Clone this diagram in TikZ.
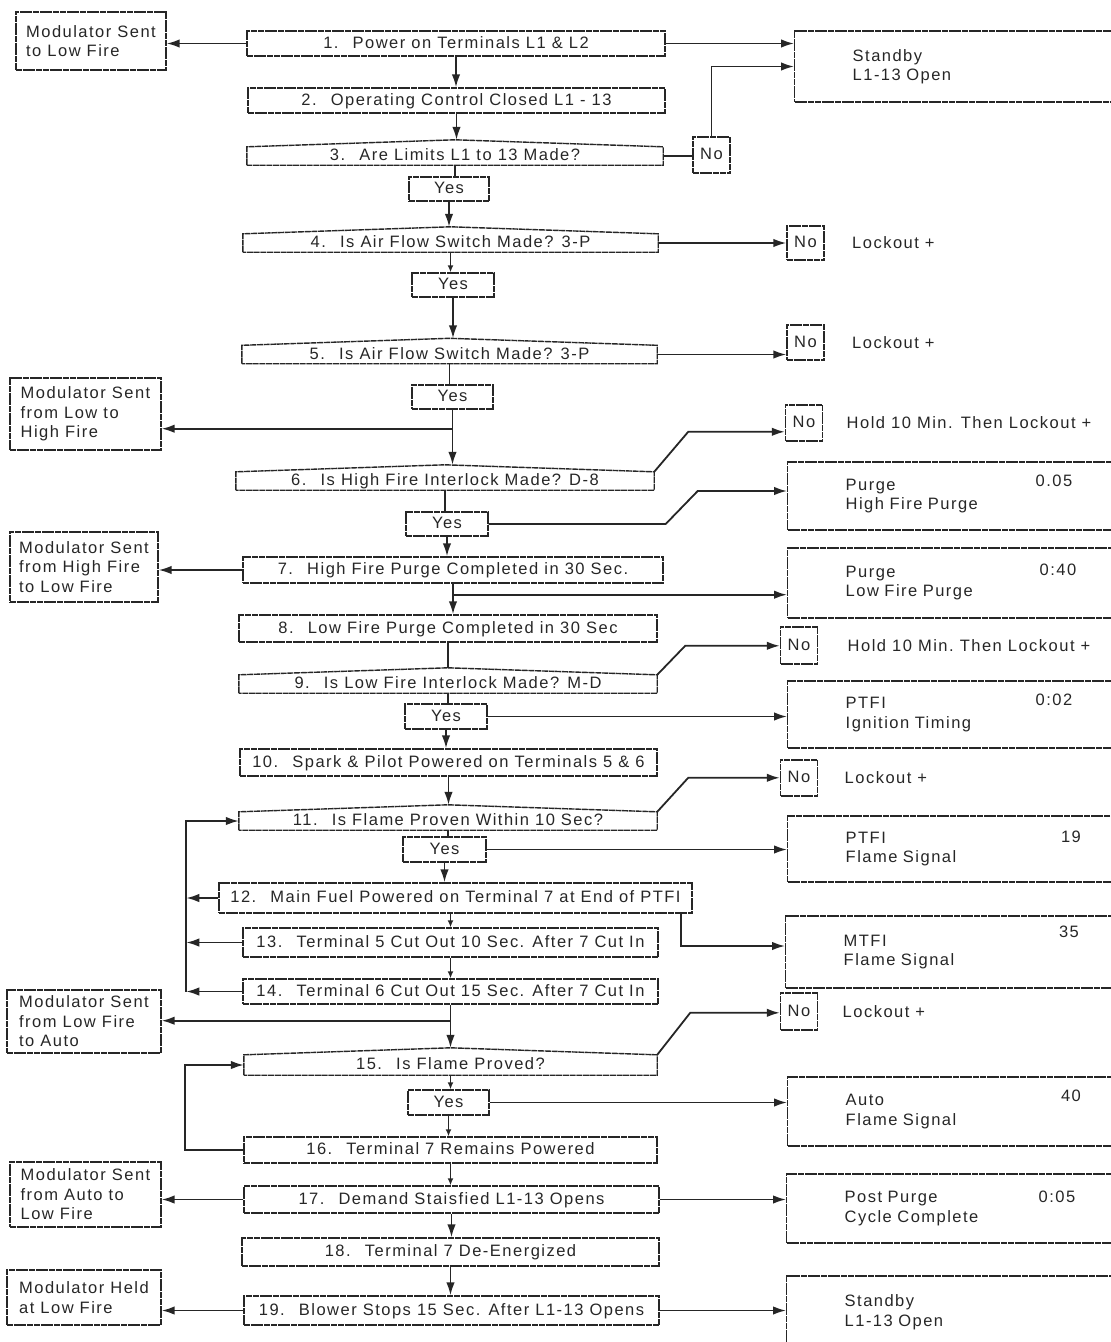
\documentclass[tikz,border=0pt]{standalone}
\usepackage{fontspec}
\setmainfont{Liberation Sans}[LetterSpace=9.0]
\usetikzlibrary{arrows.meta, positioning, calc}

\begin{document}
\begin{tikzpicture}[x=1pt, y=-1pt,
    font=\fontsize{16.5pt}{19.5pt}\selectfont, color=black!85,
    boxline/.style={line width=1.4pt, dash pattern=on 6pt off 0.7pt},
    stepbox/.style={draw, boxline, text height=12pt, text depth=3pt, inner sep=1pt},
    query/.style={text height=12pt, text depth=3pt, inner sep=1pt, minimum height=18pt},
    yesbox/.style={stepbox, minimum height=24pt},
    nobox/.style={stepbox, minimum width=37pt, minimum height=35pt},
    modbox/.style={draw, boxline, align=left, inner xsep=8pt},
    infobox/.style={draw, boxline, anchor=west, align=left, inner xsep=58pt, text width=240pt},
    link/.style={line width=1.8pt, -{Latex[length=13pt, width=8.5pt]}},
    shortlink/.style={line width=1.8pt, -{Latex[length=7pt, width=6pt]}},
    plain/.style={line width=1.8pt}
]
    \useasboundingbox (0,0) rectangle (1111,1342);
    \clip (0,0) rectangle (1111,1342);

    % Main sequence
    \node[stepbox, minimum width=418pt, minimum height=25pt] (n1) at (456,43.5) {1.~ Power on Terminals L1 \& L2};
    \node[stepbox, minimum width=417pt, minimum height=25pt] (n2) at (456.5,100.5) {2.~ Operating Control Closed L1 - 13};
    \node[query, minimum width=416pt] (d3) at (455,156) {3.~ Are Limits L1 to 13 Made?};
    \node[yesbox, minimum width=80pt] (y3) at (449,189) {Yes};
    \node[query, minimum width=415pt] (d4) at (450.5,243) {4.~ Is Air Flow Switch Made? 3-P};
    \node[yesbox, minimum width=82pt] (y4) at (453,285) {Yes};
    \node[query, minimum width=415pt] (d5) at (449.5,354.5) {5.~ Is Air Flow Switch Made? 3-P};
    \node[yesbox, minimum width=81pt] (y5) at (452.5,397) {Yes};
    \node[query, minimum width=418pt] (d6) at (445,481) {6.~ Is High Fire Interlock Made? D-8};
    \node[yesbox, minimum width=82pt] (y6) at (447,524) {Yes};
    \node[stepbox, minimum width=420pt, minimum height=26pt] (n7) at (453,570) {7.~ High Fire Purge Completed in 30 Sec.};
    \node[stepbox, minimum width=418pt, minimum height=27pt] (n8) at (448,628.5) {8.~ Low Fire Purge Completed in 30 Sec};
    \node[query, minimum width=418pt] (d9) at (448,684) {9.~ Is Low Fire Interlock Made? M-D};
    \node[yesbox, minimum width=82pt, minimum height=25pt] (y9) at (446,716.5) {Yes};
    \node[stepbox, minimum width=417pt, minimum height=27pt] (n10) at (448.5,762.5) {10.~ Spark \& Pilot Powered on Terminals 5 \& 6};
    \node[query, minimum width=418pt] (d11) at (448,821) {11.~ Is Flame Proven Within 10 Sec?};
    \node[yesbox, minimum width=83pt, minimum height=25pt] (y11) at (444.5,849.5) {Yes};
    \node[stepbox, minimum width=473pt, minimum height=30pt] (n12) at (455.5,898) {12.~ Main Fuel Powered on Terminal 7 at End of PTFI};
    \node[stepbox, minimum width=415pt, minimum height=29pt] (n13) at (450.5,942.5) {13.~ Terminal 5 Cut Out 10 Sec. After 7 Cut In};
    \node[stepbox, minimum width=415pt, minimum height=25pt] (n14) at (450.5,991.5) {14.~ Terminal 6 Cut Out 15 Sec. After 7 Cut In};
    \node[query, minimum width=413pt, minimum height=20pt] (d15) at (450.5,1065) {15.~ Is Flame Proved?};
    \node[yesbox, minimum width=81pt, minimum height=25pt] (y15) at (448.5,1102.5) {Yes};
    \node[stepbox, minimum width=413pt, minimum height=26pt] (n16) at (450.5,1150) {16.~ Terminal 7 Remains Powered};
    \node[stepbox, minimum width=415pt, minimum height=27pt] (n17) at (451.5,1199.5) {17.~ Demand Staisfied L1-13 Opens};
    \node[stepbox, minimum width=417pt, minimum height=28pt] (n18) at (450.5,1252) {18.~ Terminal 7 De-Energized};
    \node[stepbox, minimum width=415pt, minimum height=29pt] (n19) at (451.5,1310.5) {19.~ Blower Stops 15 Sec. After L1-13 Opens};

    % Decision outlines with a low roof
    \foreach \q in {d3,d4,d5,d6,d9,d11,d15}
        \draw[boxline] (\q.south west) -- (\q.north west) -- ([yshift=7pt]\q.north)
            -- (\q.north east) -- (\q.south east) -- cycle;
    \coordinate (d3top) at ([yshift=7pt]d3.north);
    \coordinate (d4top) at ([yshift=7pt]d4.north);
    \coordinate (d5top) at ([yshift=7pt]d5.north);
    \coordinate (d6top) at ([yshift=7pt]d6.north);
    \coordinate (d9top) at ([yshift=7pt]d9.north);
    \coordinate (d11top) at ([yshift=7pt]d11.north);
    \coordinate (d15top) at ([yshift=7pt]d15.north);

    % Modulator boxes
    \node[modbox, minimum width=150pt, minimum height=58pt] (m1) at (91,41) {Modulator Sent\\to Low Fire};
    \node[modbox, minimum width=151pt, minimum height=72pt] (m2) at (85.5,414) {Modulator Sent\\from Low to\\High Fire};
    \node[modbox, minimum width=148pt, minimum height=70pt] (m3) at (84,567) {Modulator Sent\\from High Fire\\to Low Fire};
    \node[modbox, minimum width=154pt, minimum height=63pt] (m4) at (84,1021.5) {Modulator Sent\\from Low Fire\\to Auto};
    \node[modbox, minimum width=151pt, minimum height=65pt] (m5) at (85.5,1194.5) {Modulator Sent\\from Auto to\\Low Fire};
    \node[modbox, minimum width=154pt, minimum height=55pt] (m6) at (84,1297.5) {Modulator Held\\at Low Fire};

    % No boxes
    \node[nobox, minimum height=36pt] (no3) at (711.5,155) {No};
    \node[nobox, minimum height=34pt] (no4) at (805.5,243) {No};
    \node[nobox] (no5) at (805.5,342.5) {No};
    \node[nobox, minimum height=36pt] (no6) at (804,423) {No};
    \node[nobox, minimum height=37pt] (no9) at (799,645.5) {No};
    \node[nobox, minimum height=36pt] (no11) at (799,778) {No};
    \node[nobox, minimum height=37pt] (no15) at (799,1011.5) {No};

    % Lockout notes
    \node[right=24pt of no4] (lk4) {Lockout +};
    \node[right=24pt of no5] (lk5) {Lockout +};
    \node[right=20pt of no6] (lk6) {Hold 10 Min. Then Lockout +};
    \node[right=26pt of no9] (lk9) {Hold 10 Min.\ Then Lockout +};
    \node[right=23pt of no11] (lk11) {Lockout +};
    \node[right=21pt of no15] (lk15) {Lockout +};

    % Display boxes
    \node[infobox, minimum height=71pt] (sb1) at (794,66.5) {Standby\\L1-13 Open};
    \node[infobox, minimum height=68pt] (pu1) at (787,496) {Purge\\High Fire Purge};
    \node[infobox, minimum height=70pt] (pu2) at (787,583) {Purge\\Low Fire Purge};
    \node[infobox, minimum height=67pt] (pt1) at (787,714.5) {PTFI\\Ignition Timing};
    \node[infobox, minimum height=66pt] (pt2) at (787,849) {PTFI\\Flame Signal};
    \node[infobox, minimum height=72pt] (mt1) at (785,952) {MTFI\\Flame Signal};
    \node[infobox, minimum height=69pt] (au1) at (787,1111.5) {Auto\\Flame Signal};
    \node[infobox, minimum height=69pt] (pp1) at (786,1208.5) {Post Purge\\Cycle Complete};
    \node[infobox, minimum height=72pt] (sb2) at (786,1312) {Standby\\L1-13 Open};

    % Display values
    \node (tm1) at (1054,481) {0.05};
    \node (tm2) at (1058,570) {0:40};
    \node (tm3) at (1054,700) {0:02};
    \node (tm4) at (1071,837) {19};
    \node (tm5) at (1069,932) {35};
    \node (tm6) at (1071,1096) {40};
    \node (tm7) at (1057,1197) {0:05};

    % Main column connectors
    \draw[link] (n1.south) -- (n1.south |- n2.north);
    \draw[link] (n2.south) -- (n2.south |- d3top);
    \draw[plain] (d3.south) -- (d3.south |- y3.north);
    \draw[link] (y3.south) -- (y3.south |- d4top);
    \draw[shortlink] (d4.south) -- (d4.south |- y4.north);
    \draw[link] (y4.south) -- (y4.south |- d5top);
    \draw[plain] (d5.south) -- (d5.south |- y5.north);
    \draw[link] (y5.south) -- (y5.south |- d6top);
    \draw[plain] (d6.south) -- (d6.south |- y6.north);
    \draw[link] (y6.south) -- (y6.south |- n7.north);
    \draw[link] (n7.south) -- (n7.south |- n8.north);
    \draw[plain] (n8.south) -- (n8.south |- d9top);
    \draw[plain] (d9.south) -- (d9.south |- y9.north);
    \draw[link] (y9.south) -- (y9.south |- n10.north);
    \draw[link] (n10.south) -- (n10.south |- d11top);
    \draw[plain] (d11.south) -- (d11.south |- y11.north);
    \draw[link] (y11.south) -- (y11.south |- n12.north);
    \draw[shortlink] (n13.north |- n12.south) -- (n13.north);
    \draw[shortlink] (n13.south) -- (n13.south |- n14.north);
    \draw[link] (n14.south) -- (n14.south |- d15top);
    \draw[shortlink] (d15.south) -- (d15.south |- y15.north);
    \draw[shortlink] (y15.south) -- (y15.south |- n16.north);
    \draw[shortlink] (n16.south) -- (n16.south |- n17.north);
    \draw[link] (n17.south) -- (n17.south |- n18.north);
    \draw[link] (n18.south) -- (n18.south |- n19.north);

    % To the modulator boxes
    \draw[link] (n1.west) -- (n1.west -| m1.east);
    \draw[link] ([yshift=-19pt]y5.south) coordinate (j5) -- (j5 -| m2.east);
    \draw[link] (n7.west) -- (n7.west -| m3.east);
    \draw[link] ([yshift=-16pt]n14.south) coordinate (j14) -- (j14 -| m4.east);
    \draw[link] (n17.west) -- (n17.west -| m5.east);
    \draw[link] (n19.west) -- (n19.west -| m6.east);

    % Loop back to step 11
    \draw[link] (n12.west) -- ++(-32,0);
    \draw[link] (n13.west) -- ++(-56,0);
    \draw[link] (n14.west) -- ++(-56,0);
    \draw[link] ([xshift=-56pt]n14.west) |- (d11.west);

    % Loop back to step 15
    \draw[link] (n16.west) -- ++(-58,0) |- (d15.west);

    % No branches
    \draw[plain] (d3.east) -- (d3.east -| no3.west);
    \draw[link] (no3.north) |- (sb1.west);
    \draw[link] (d4.east) -- (d4.east -| no4.west);
    \draw[link] (d5.east) -- (d5.east -| no5.west);
    \draw[link] (d6.north east) -- ++(34,-40) coordinate (k6) -- (k6 -| no6.west);
    \draw[link] (d9.north east) -- ++(28,-29) coordinate (k9) -- (k9 -| no9.west);
    \draw[link] (d11.north east) -- ++(31,-34) coordinate (k11) -- (k11 -| no11.west);
    \draw[link] (d15.north east) -- ++(33,-42) coordinate (k15) -- (k15 -| no15.west);

    % To the display boxes
    \draw[link] (n1.east) -- (n1.east -| sb1.west);
    \draw[link] (y6.east) -- ++(177,0) -- ++(32,-33) coordinate (k7) -- (k7 -| pu1.west);
    \draw[link] ([yshift=-11pt]n7.south) coordinate (j7) -- (j7 -| pu2.west);
    \draw[link] (y9.east) -- (y9.east -| pt1.west);
    \draw[link] (y11.east) -- (y11.east -| pt2.west);
    \draw[link] ([xshift=-12pt]n12.south east) |- ([yshift=6pt]mt1.west);
    \draw[link] (y15.east) -- (y15.east -| au1.west);
    \draw[link] (n17.east) -- (n17.east -| pp1.west);
    \draw[link] (n19.east) -- (n19.east -| sb2.west);
\end{tikzpicture}
\end{document}
